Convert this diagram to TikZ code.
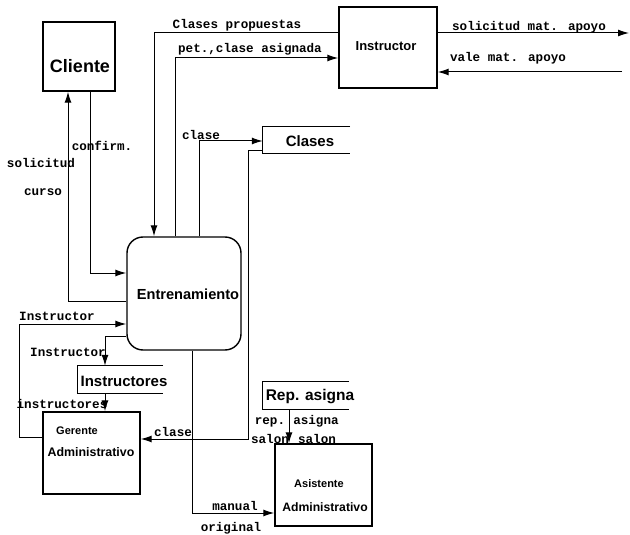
\documentclass[tikz,border=0pt]{standalone}
\usepackage{fontspec}
\setmainfont{Liberation Sans}
\newfontfamily\lblfont{Liberation Mono}
\usetikzlibrary{arrows.meta}
\begin{document}
\begin{tikzpicture}[x=1pt,y=-1pt,
  box/.style={draw,line width=1.4pt,inner sep=0pt},
  store/.style={inner sep=0pt},
  btxt/.style={inner sep=0pt,font=\bfseries\fontsize{#1}{#1}\selectfont},
  lbl/.style={inner sep=0pt,font=\lblfont\bfseries\fontsize{12.6}{13}\selectfont},
  arr/.style={line width=1pt,-{Latex[length=11pt,width=7pt]}},
  sline/.style={line width=1.3pt}]
\useasboundingbox (0,0) rectangle (630,535);
% boxes
\node[box,minimum width=72pt,minimum height=69pt] (cliente) at (79,56.5) {};
\node[btxt=18] (clienteT) at (80,66) {Cliente};
\node[box,minimum width=98pt,minimum height=81pt] (instr) at (388,47.5) {};
\node[btxt=13] (instrT) at (386,46) {Instructor};
\node[box,rounded corners=16pt,minimum width=114pt,minimum height=113pt] (entr) at (184,293.5) {};
\node[btxt=14.6] (entrT) at (188,294) {Entrenamiento};
\node[box,minimum width=97pt,minimum height=82pt] (ger) at (91.5,453) {};
\node[btxt=11] (gerT1) at (77,431) {Gerente};
\node[btxt=12.4] (gerT2) at (91,452) {Administrativo};
\node[box,minimum width=97pt,minimum height=82pt] (asis) at (323.5,485) {};
\node[btxt=11] (asisT1) at (319,484) {Asistente};
\node[btxt=12.2] (asisT2) at (325,507) {Administrativo};
% stores
\node[store,minimum width=87pt,minimum height=26pt] (clases) at (306.5,140) {};
\draw[sline] (clases.north east) -- (clases.north west) -- (clases.south west) -- (clases.south east);
\node[btxt=15] (clasesT) at (310,141) {Clases};
\node[store,minimum width=85pt,minimum height=27pt] (instrs) at (120.5,379.5) {};
\draw[sline] (instrs.north east) -- (instrs.north west) -- (instrs.south west) -- (instrs.south east);
\node[btxt=15] (instrsT) at (124,381) {Instructores};
\node[store,minimum width=86pt,minimum height=27pt] (rep) at (306,395.5) {};
\draw[sline] (rep.north east) -- (rep.north west) -- (rep.south west) -- (rep.south east);
\node[btxt=15.5] (repT) at (310,397) {Rep. asigna};
% connectors
\draw[arr] (entr.west |- 0,301) -| (cliente.south -| 68,0);
\draw[arr] (cliente.south -| 90,0) |- (entr.west |- 0,273);
\draw[arr] (instr.west |- 0,33) -| (entr.north -| 154,0);
\draw[arr] (entr.north -| 175,0) |- (instr.west |- 0,58);
\draw[arr] (entr.north -| 199,0) |- (clases.west |- 0,141);
\draw[arr] (clases.west |- 0,150) -- ++(-14,0) |- (ger.east |- 0,439);
\draw[arr] (entr.south -| 192,0) |- (asis.west |- 0,513);
\draw[arr] (rep.south -| 289,0) -- (asis.north -| 289,0);
\draw[arr] (ger.west |- 0,437) -- ++(-23,0) |- (entr.west |- 0,324);
\draw[arr] (entr.west |- 0,336) -| (instrs.north -| 105,0);
\draw[arr] (instrs.south -| 105,0) -- (ger.north -| 105,0);
\coordinate (ext1) at (629,33);
\coordinate (ext2) at (622,72);
\draw[arr] (instr.east |- 0,33) -- (ext1);
\draw[arr] (ext2) -- (instr.east |- 0,72);
% labels
\node[lbl] (l1) at (41,163) {solicitud};
\node[lbl] (l2) at (43,192) {curso};
\node[lbl] (l3) at (102,146) {confirm.};
\node[lbl] (l4) at (237,25) {Clases propuestas};
\node[lbl] (l5) at (250,49) {pet.,clase asignada};
\node[lbl] (l6) at (201,135) {clase};
\node[lbl] (l7) at (529,27) {solicitud mat. apoyo};
\node[lbl] (l8) at (508,58) {vale mat. apoyo};
\node[lbl] (l9) at (57,316) {Instructor};
\node[lbl] (l10) at (68,352) {Instructor};
\node[lbl] (l11) at (62,404) {instructores};
\node[lbl] (l12) at (173,432) {clase};
\node[lbl] (l13) at (270,422) {rep.};
\node[lbl] (l14) at (270,439) {salon};
\node[lbl] (l15) at (316,421) {asigna};
\node[lbl] (l16) at (317,439) {salon};
\node[lbl] (l17) at (235,506) {manual};
\node[lbl] (l18) at (231,528) {original};
\end{tikzpicture}
\end{document}
